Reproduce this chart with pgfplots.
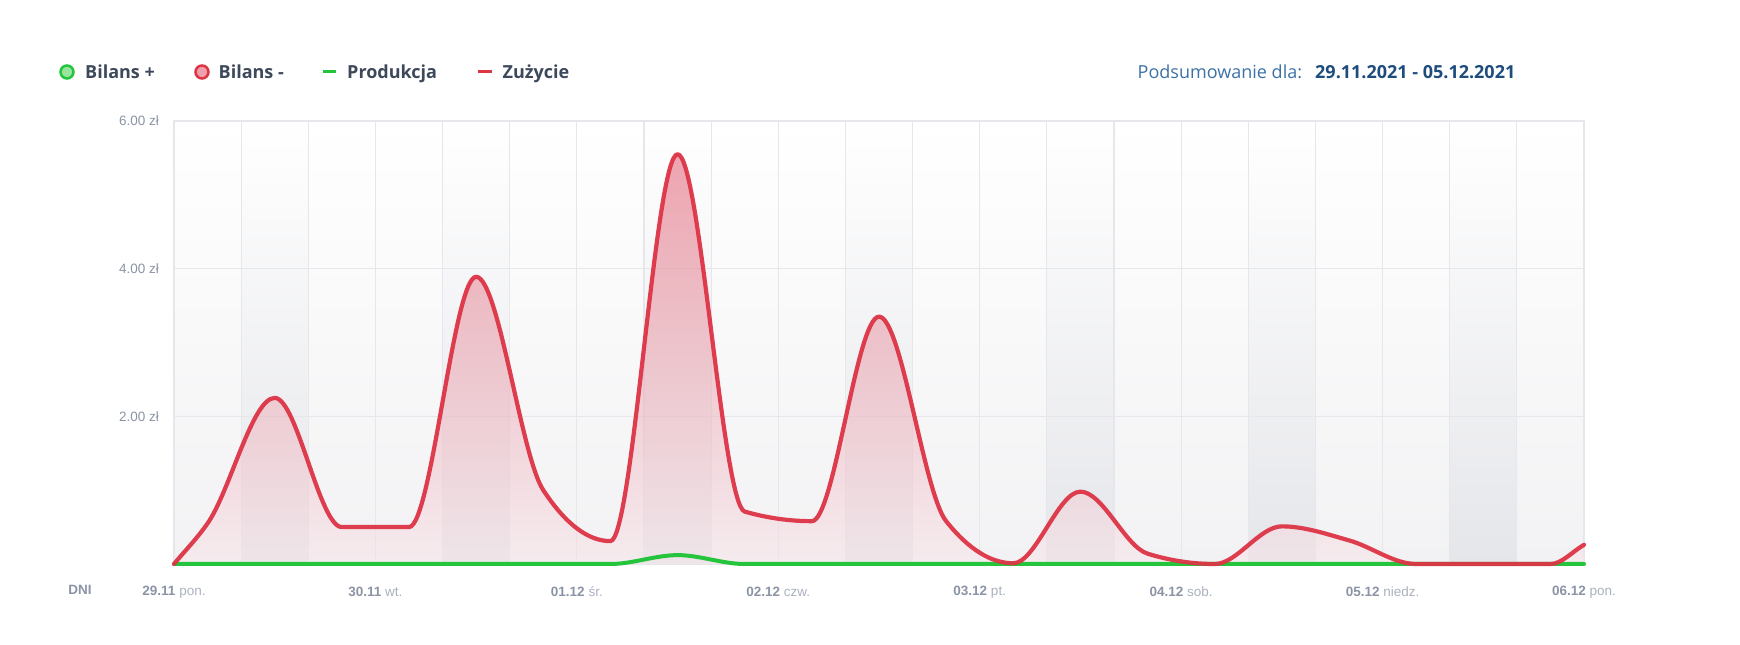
\documentclass[border=0pt]{standalone}
\usepackage{fontspec}
\setmainfont{Liberation Sans}
\newfontfamily\legfont{Open Sans}
\usepackage{pgfplots}
\usepackage{pgfplotstable}
\pgfplotsset{compat=1.18}

\definecolor{zred}{RGB}{221,52,70}
\definecolor{zgreen}{RGB}{36,196,60}
\definecolor{lgreen}{RGB}{150,228,160}
\definecolor{lred}{RGB}{240,160,172}
\definecolor{gridc}{RGB}{230,231,234}
\definecolor{legtext}{RGB}{61,72,90}
\definecolor{sumblue}{RGB}{59,113,166}
\definecolor{datblue}{RGB}{30,76,124}
\definecolor{tickdark}{RGB}{138,148,165}
\definecolor{ticklight}{RGB}{170,177,190}
\definecolor{bgbot}{RGB}{242,242,244}
\definecolor{colbot}{RGB}{229,230,234}
\definecolor{filltop}{RGB}{222,78,100}
\definecolor{fillbot}{RGB}{248,230,234}

% ---- monotone cubic plot handler (Steffen) ----
\makeatletter
\newcount\mono@n \newcount\mono@i \newcount\mono@j \newcount\mono@k
\def\mono@get#1#2{\csname mono@#1@\number#2\endcsname}
\def\pgfplothandlermonotone{%
  \def\pgf@plotstreamstart{%
    \global\mono@n=0\relax
    \global\let\pgf@plotstreampoint=\mono@point
    \global\let\pgf@plotstreamspecial=\pgfutil@gobble
    \global\let\pgf@plotstreamend=\mono@end
  }%
}
\def\mono@point#1{%
  \pgf@process{#1}%
  \global\advance\mono@n by 1\relax
  \expandafter\xdef\csname mono@x@\the\mono@n\endcsname{\pgf@sys@tonumber\pgf@x}%
  \expandafter\xdef\csname mono@y@\the\mono@n\endcsname{\pgf@sys@tonumber\pgf@y}%
}
\def\mono@sgn#1{%
  \ifdim #1pt>0.001pt \def\mono@s{1}\else
    \ifdim #1pt<-0.001pt \def\mono@s{-1}\else \def\mono@s{0}\fi\fi}
\def\mono@end{\ifnum\mono@n>1 \mono@compute\fi}
\def\mono@compute{%
  \mono@i=1\relax
  \loop
    \mono@j=\mono@i \advance\mono@j by 1\relax
    \pgfmathparse{(\mono@get{y}{\mono@j}-\mono@get{y}{\mono@i})/(\mono@get{x}{\mono@j}-\mono@get{x}{\mono@i})}%
    \expandafter\xdef\csname mono@d@\the\mono@i\endcsname{\pgfmathresult}%
    \advance\mono@i by 1\relax
  \ifnum\mono@i<\mono@n \repeat
  \expandafter\xdef\csname mono@m@1\endcsname{\mono@get{d}{1}}%
  \mono@j=\mono@n \advance\mono@j by -1\relax
  \expandafter\xdef\csname mono@m@\the\mono@n\endcsname{\mono@get{d}{\mono@j}}%
  \mono@i=2\relax
  \loop\ifnum\mono@i<\mono@n
    \mono@j=\mono@i \advance\mono@j by -1\relax
    \mono@k=\mono@i \advance\mono@k by 1\relax
    \edef\mono@da{\mono@get{d}{\mono@j}}%
    \edef\mono@db{\mono@get{d}{\mono@i}}%
    \pgfmathsetmacro\mono@ha{\mono@get{x}{\mono@i}-\mono@get{x}{\mono@j}}%
    \pgfmathsetmacro\mono@hb{\mono@get{x}{\mono@k}-\mono@get{x}{\mono@i}}%
    \mono@sgn{\mono@da}\let\mono@sa\mono@s
    \mono@sgn{\mono@db}\let\mono@sb\mono@s
    \def\mono@m{0}%
    \ifnum\mono@sa=\mono@sb\relax
      \ifnum\mono@sa=0 \else
        \pgfmathsetmacro\mono@p{(\mono@da*\mono@hb+\mono@db*\mono@ha)/(\mono@ha+\mono@hb)}%
        \pgfmathsetmacro\mono@m{2*min(abs(\mono@da),abs(\mono@db),0.5*abs(\mono@p))}%
        \ifnum\mono@sa<0 \pgfmathsetmacro\mono@m{-\mono@m}\fi
      \fi
    \fi
    \expandafter\xdef\csname mono@m@\the\mono@i\endcsname{\mono@m}%
    \advance\mono@i by 1\relax
  \repeat
  \pgf@plot@first@action{\pgfqpoint{\mono@get{x}{1}pt}{\mono@get{y}{1}pt}}%
  \mono@i=1\relax
  \loop\ifnum\mono@i<\mono@n
    \mono@j=\mono@i \advance\mono@j by 1\relax
    \pgfmathsetmacro\mono@h{(\mono@get{x}{\mono@j}-\mono@get{x}{\mono@i})/3}%
    \pgfmathsetmacro\mono@ax{\mono@get{x}{\mono@i}+\mono@h}%
    \pgfmathsetmacro\mono@ay{\mono@get{y}{\mono@i}+\mono@get{m}{\mono@i}*\mono@h}%
    \pgfmathsetmacro\mono@bx{\mono@get{x}{\mono@j}-\mono@h}%
    \pgfmathsetmacro\mono@by{\mono@get{y}{\mono@j}-\mono@get{m}{\mono@j}*\mono@h}%
    \edef\mono@cx{\mono@get{x}{\mono@j}}\edef\mono@cy{\mono@get{y}{\mono@j}}%
    \pgfpathcurveto{\pgfqpoint{\mono@ax pt}{\mono@ay pt}}{\pgfqpoint{\mono@bx pt}{\mono@by pt}}{\pgfqpoint{\mono@cx pt}{\mono@cy pt}}%
    \advance\mono@i by 1\relax
  \repeat
}
\tikzset{monotone/.code={\let\tikz@plot@handler=\pgfplothandlermonotone}}
\makeatother

\pgfplotstableread{
h v
0 0
4 0.55
12 2.25
20 0.50
28 0.50
36 3.89
44 1.00
52 0.31
60 5.55
68 0.71
76 0.58
84 3.35
92 0.58
100 0.01
108 0.98
116 0.14
124 0.00
132 0.51
140 0.32
148 0.00
156 0.00
164 0.00
168 0.26
}\zuzycie

\pgfplotstableread{
h v
0 0
52 0
60 0.12
68 0
168 0
}\produkcja

\newcommand\dl[2]{\textcolor{tickdark}{\bfseries #1} \textcolor{ticklight}{#2}}
\newcommand\daycol[2]{\fill[top color=white, bottom color=colbot] (axis cs:#1,0) rectangle (axis cs:#2,6);}

\pgfplotsset{
  chartgeom/.style={
    scale only axis, width=1410pt, height=443pt,
    xmin=0, xmax=168, ymin=0, ymax=6,
  }
}
\tikzset{legtxt/.style={anchor=mid west, inner sep=0, font=\legfont\bfseries\fontsize{18}{20}\selectfont, text=legtext}}

\begin{document}
\begin{tikzpicture}[x=1pt,y=1pt]
% background axis: gradient and daytime columns
\begin{axis}[chartgeom, hide axis]
\fill[top color=white, bottom color=bgbot] (axis cs:0,0) rectangle (axis cs:168,6);
\daycol{8}{16}
\daycol{32}{40}
\daycol{56}{64}
\daycol{80}{88}
\daycol{104}{112}
\daycol{128}{136}
\daycol{152}{160}
\end{axis}
% main axis
\begin{axis}[
  chartgeom,
  clip=false,
  axis line style={draw=gridc, line width=1.2pt},
  xtick={0,24,...,168},
  minor xtick={0,8,...,168},
  ytick={2,4,6},
  yticklabels={2.00 zł,4.00 zł,6.00 zł},
  xticklabels={\dl{29.11}{pon.},\dl{30.11}{wt.},\dl{01.12}{śr.},\dl{02.12}{czw.},\dl{03.12}{pt.},\dl{04.12}{sob.},\dl{05.12}{niedz.},\dl{06.12}{pon.}},
  xmajorgrids, xminorgrids, ymajorgrids,
  major grid style={draw=gridc, line width=1.2pt},
  minor grid style={draw=gridc, line width=1.2pt},
  major tick length=0pt, minor tick length=0pt,
  tick style={draw=none},
  xticklabel style={anchor=center, yshift=-28pt, font=\fontsize{13.5}{16}\selectfont},
  yticklabel style={anchor=east, inner sep=0pt, xshift=-15pt, font=\fontsize{13.5}{16}\selectfont, text=tickdark},
]
\addplot[monotone, draw=none, top color=filltop, bottom color=fillbot, fill opacity=0.5] table[x=h,y=v]{\zuzycie} \closedcycle;
\addplot[monotone, color=zgreen, line width=4pt, line join=round, line cap=round] table[x=h,y=v]{\produkcja};
\addplot[monotone, color=zred, line width=4.2pt, line join=round, line cap=round, opacity=0.95] table[x=h,y=v]{\zuzycie};
\coordinate (O) at (axis cs:0,0);
\end{axis}
\node[anchor=center, inner sep=0, font=\fontsize{13.5}{16}\selectfont\bfseries, text=tickdark] at ([shift={(-94,-26)}]O) {DNI};
% legend
\draw[zgreen, line width=2.5pt, fill=lgreen] ([shift={(-107,492)}]O) circle (6.5);
\node[legtxt] at ([shift={(-89,488)}]O) {Bilans +};
\draw[zred, line width=2.5pt, fill=lred] ([shift={(28,492)}]O) circle (6.5);
\node[legtxt] at ([shift={(44.5,488)}]O) {Bilans -};
\draw[zgreen, line width=3pt] ([shift={(149,492)}]O) -- ([shift={(162,492)}]O);
\node[legtxt] at ([shift={(173,488)}]O) {Produkcja};
\draw[zred, line width=3pt] ([shift={(304,492)}]O) -- ([shift={(318,492)}]O);
\node[legtxt] at ([shift={(328.5,488)}]O) {Zużycie};
\node[anchor=mid west, inner sep=0, font=\legfont\fontsize{18}{20}\selectfont, text=sumblue] at ([shift={(963.5,488)}]O) {Podsumowanie dla:};
\node[anchor=mid west, inner sep=0, font=\legfont\bfseries\fontsize{18}{20}\selectfont, text=datblue] at ([shift={(1141,488)}]O) {29.11.2021 - 05.12.2021};
\path[use as bounding box] ([shift={(-174,-81)}]O) rectangle ([shift={(1566,564)}]O);
\end{tikzpicture}
\end{document}
